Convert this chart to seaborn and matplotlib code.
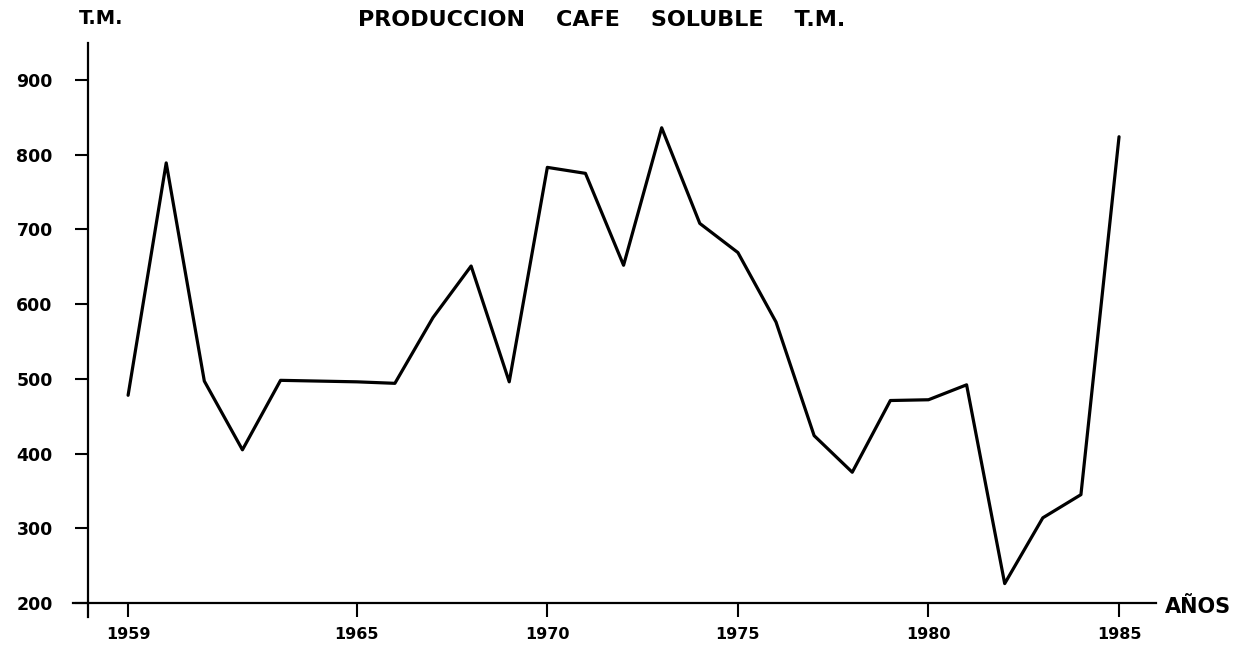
import pandas as pd
import matplotlib.pyplot as plt
import seaborn as sns

# production of soluble coffee, T.M. per year
years = list(range(1959, 1986))
production = [478, 789, 497, 405, 498, 497, 496, 494, 582, 651,
              496, 783, 775, 652, 836, 708, 669, 576, 424, 375,
              471, 472, 492, 226, 314, 345, 824]

x_ticks = [1959, 1965, 1970, 1975, 1980, 1985]
y_ticks = [200, 300, 400, 500, 600, 700, 800, 900]

df = pd.DataFrame({'year': years, 'tm': production})

sns.set_style("white")
plt.rcParams['font.family'] = ['DejaVu Sans']
plt.rcParams['font.weight'] = 'bold'
plt.rcParams['text.color'] = 'black'
plt.rcParams['xtick.color'] = 'black'
plt.rcParams['ytick.color'] = 'black'

fig = plt.figure(figsize=(12.51, 6.5), dpi=100)
ax = fig.add_axes([0.0584, 0.0508, 0.8657, 0.8831])

sns.lineplot(data=df, x='year', y='tm', color='black', linewidth=2.3, ax=ax)

ax.set_xlim(1957.556, 1985.971)
ax.set_ylim(181.3, 949.5)

# axes crossing like the hand drawn chart
ax.spines['right'].set_visible(False)
ax.spines['top'].set_visible(False)
ax.spines['left'].set_position(('data', 1957.95))
ax.spines['bottom'].set_position(('data', 200))
for s in ['left', 'bottom']:
    ax.spines[s].set_linewidth(1.6)
    ax.spines[s].set_color('black')

ax.set_xticks(x_ticks)
ax.set_xticklabels([str(v) for v in x_ticks], fontsize=11.5, fontweight='bold')
ax.set_yticks(y_ticks)
ax.set_yticklabels([str(v) for v in y_ticks], fontsize=12.5, fontweight='bold')
ax.tick_params(axis='x', direction='out', length=10, width=1.5, pad=7, bottom=True)
ax.tick_params(axis='y', direction='out', length=9.5, width=1.5, pad=16, left=True)

ax.set_xlabel('')
ax.set_ylabel('')

fig.text(0.0807, 0.972, 'T.M.', fontsize=14, fontweight='bold', ha='center', va='center')
fig.text(0.481, 0.969, 'PRODUCCION    CAFE    SOLUBLE    T.M.', fontsize=16,
         fontweight='bold', ha='center', va='center')
fig.text(0.931, 0.066, 'AÑOS', fontsize=15, fontweight='bold', ha='left', va='center')

fig.savefig('out.png', dpi=100)
